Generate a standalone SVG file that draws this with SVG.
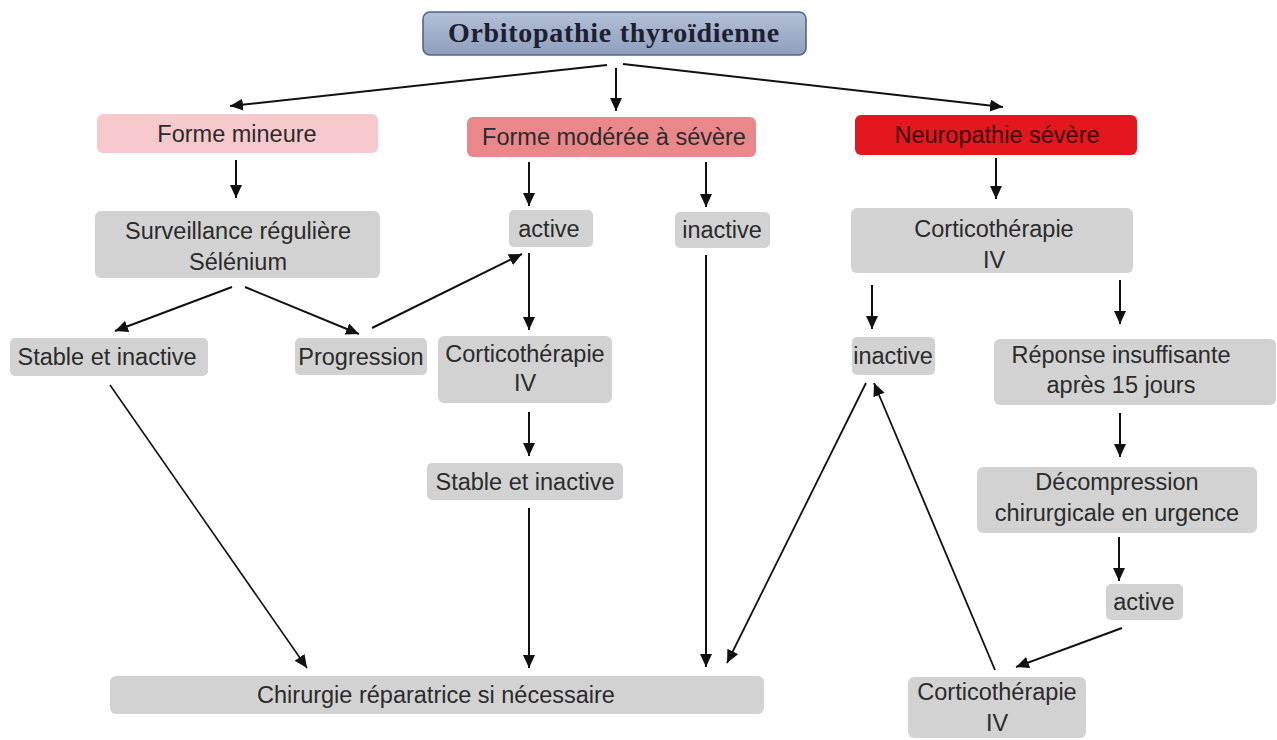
<svg xmlns="http://www.w3.org/2000/svg" width="1277" height="740" viewBox="0 0 1277 740">
<defs>
<linearGradient id="tg" x1="0" y1="0" x2="0" y2="1">
<stop offset="0" stop-color="#b3c0d6"/>
<stop offset="1" stop-color="#8e9fbd"/>
</linearGradient>
<marker id="ah" markerUnits="userSpaceOnUse" markerWidth="14" markerHeight="12" refX="13" refY="6" orient="auto">
<path d="M0,0 L13,6 L0,12 Z" fill="#111"/>
</marker>
<style>
.box{fill:#d2d2d2;}
.t{font-family:"Liberation Sans",Arial,sans-serif;font-size:23.5px;fill:#2b2b2b;text-anchor:middle;}
.c{stroke:#111;stroke-width:2;fill:none;marker-end:url(#ah);}
</style>
</defs>
<rect width="1277" height="740" fill="#ffffff"/>

<g id="connectors">
<path class="c" d="M607,65 L230,106"/>
<path class="c" d="M616,68 L616,111"/>
<path class="c" d="M623,64 L1003,107"/>
<path class="c" d="M236,160 L236,198"/>
<path class="c" d="M529,162 L529,206"/>
<path class="c" d="M706,162 L706,207"/>
<path class="c" d="M996,158 L996,199"/>
<path class="c" d="M232,287 L115,331"/>
<path class="c" d="M245,287 L359,334"/>
<path class="c" d="M372,328 L522,254"/>
<path class="c" d="M529,253 L529,330"/>
<path class="c" d="M529,412 L529,456"/>
<path class="c" d="M529,508 L529,668"/>
<path class="c" d="M706,255 L706,667"/>
<path class="c" d="M110,385 L307,668" style="stroke-width:1.6"/>
<path class="c" d="M872,285 L872,329"/>
<path class="c" d="M1120,280 L1120,324"/>
<path class="c" d="M1120,413 L1120,457"/>
<path class="c" d="M1119,537 L1119,581"/>
<path class="c" d="M1122,628 L1016,667"/>
<path class="c" d="M995,670 L874,383" style="stroke-width:1.8"/>
<path class="c" d="M866,383 L727,663" style="stroke-width:1.8"/>
</g>

<g id="title">
<rect x="423" y="12" width="383" height="43" rx="7" fill="url(#tg)" stroke="#52658a" stroke-width="1.6"/>
<text x="614" y="42" style="font-family:'Liberation Serif','Times New Roman',serif;font-size:28px;font-weight:bold;fill:#1c2030;letter-spacing:0.7px" text-anchor="middle">Orbitopathie thyroïdienne</text>
</g>

<g id="forme-mineure">
<rect x="97" y="114" width="281" height="39" rx="6" fill="#f7c9cc"/>
<text class="t" x="237" y="142">Forme mineure</text>
</g>

<g id="forme-moderee">
<rect x="467" y="117" width="289" height="40" rx="6" fill="#ea878b"/>
<text class="t" x="614" y="145">Forme modérée à sévère</text>
</g>

<g id="neuropathie">
<rect x="855" y="115" width="282" height="40" rx="6" fill="#e3171d"/>
<text class="t" x="997" y="143" style="fill:#3a0808">Neuropathie sévère</text>
</g>

<g id="surveillance">
<rect class="box" x="95" y="211" width="285" height="67" rx="6"/>
<text class="t" x="238" y="239">Surveillance régulière</text>
<text class="t" x="238" y="270">Sélénium</text>
</g>

<g id="active-mid">
<rect class="box" x="509" y="210" width="84" height="37" rx="5"/>
<text class="t" x="549" y="237">active</text>
</g>

<g id="inactive-mid">
<rect class="box" x="675" y="212" width="95" height="36" rx="5"/>
<text class="t" x="722" y="238">inactive</text>
</g>

<g id="corti-right">
<rect class="box" x="851" y="208" width="282" height="65" rx="6"/>
<text class="t" x="994" y="237">Corticothérapie</text>
<text class="t" x="994" y="268">IV</text>
</g>

<g id="stable-left">
<rect class="box" x="10" y="338" width="198" height="38" rx="5"/>
<text class="t" x="107" y="365">Stable et inactive</text>
</g>

<g id="progression">
<rect class="box" x="295" y="338" width="132" height="37" rx="5"/>
<text class="t" x="361" y="365">Progression</text>
</g>

<g id="corti-mid">
<rect class="box" x="438" y="336" width="174" height="67" rx="6"/>
<text class="t" x="525" y="362">Corticothérapie</text>
<text class="t" x="525" y="391">IV</text>
</g>

<g id="stable-mid">
<rect class="box" x="427" y="463" width="196" height="37" rx="5"/>
<text class="t" x="525" y="490">Stable et inactive</text>
</g>

<g id="inactive-right">
<rect class="box" x="852" y="337" width="83" height="38" rx="5"/>
<text class="t" x="893" y="364">inactive</text>
</g>

<g id="reponse">
<rect class="box" x="994" y="339" width="282" height="66" rx="6"/>
<text class="t" x="1121" y="363">Réponse insuffisante</text>
<text class="t" x="1121" y="393">après 15 jours</text>
</g>

<g id="decompression">
<rect class="box" x="977" y="467" width="280" height="66" rx="6"/>
<text class="t" x="1117" y="490">Décompression</text>
<text class="t" x="1117" y="521">chirurgicale en urgence</text>
</g>

<g id="active-right">
<rect class="box" x="1106" y="584" width="77" height="36" rx="5"/>
<text class="t" x="1144" y="610">active</text>
</g>

<g id="chirurgie">
<rect class="box" x="110" y="676" width="654" height="38" rx="6"/>
<text class="t" x="436" y="703">Chirurgie réparatrice si nécessaire</text>
</g>

<g id="corti-bottom">
<rect class="box" x="908" y="677" width="178" height="61" rx="6"/>
<text class="t" x="997" y="700">Corticothérapie</text>
<text class="t" x="997" y="731">IV</text>
</g>
</svg>
